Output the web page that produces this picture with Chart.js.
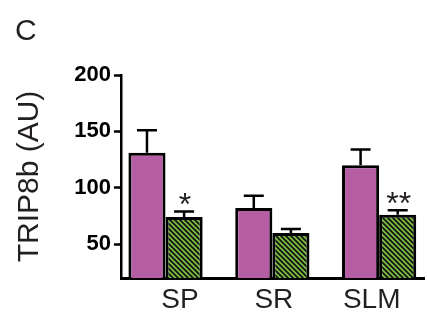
<!DOCTYPE html>
<html>
<head>
<meta charset="utf-8">
<script src="https://cdn.jsdelivr.net/npm/chart.js@4"></script>
<style>
  html, body { margin: 0; padding: 0; background: #fff; }
  canvas { display: block; }
</style>
</head>
<body>
<canvas id="c" width="427" height="328"></canvas>
<script>
// TRIP8b levels per hippocampal layer
const categories = ['SP', 'SR', 'SLM'];
const controlValues = [131, 82, 120];
const controlErrors = [20, 11, 14];
const treatedValues = [74, 60, 76];
const treatedErrors = [5, 3.5, 4];
const significance = ['*', '', '**'];
const yTicks = [50, 100, 150, 200];

const MAGENTA = '#b55ea4';
const GREEN = '#7cc242';
const INK = '#231f20';
const FONT = '"Liberation Sans", Arial, sans-serif';

// diagonal black hatch over green
function hatch() {
  const s = 5;
  const p = document.createElement('canvas');
  p.width = s; p.height = s;
  const g = p.getContext('2d');
  g.fillStyle = GREEN;
  g.fillRect(0, 0, s, s);
  g.strokeStyle = '#111';
  g.lineWidth = 1.8;
  g.beginPath();
  g.moveTo(-1, -1); g.lineTo(s + 1, s + 1);
  g.moveTo(-1, s - 1); g.lineTo(1, s + 1);
  g.moveTo(s - 1, -1); g.lineTo(s + 1, 1);
  g.stroke();
  return g.createPattern(p, 'repeat');
}

const ctx = document.getElementById('c').getContext('2d');

// upper error bars and significance marks
const errorBars = {
  id: 'errorBars',
  afterDatasetsDraw(chart) {
    const g = chart.ctx;
    const y = chart.scales.y;
    const errs = [controlErrors, treatedErrors];
    const vals = [controlValues, treatedValues];
    g.save();
    g.strokeStyle = '#000';
    g.lineWidth = 2.5;
    chart.data.datasets.forEach((ds, di) => {
      chart.getDatasetMeta(di).data.forEach((bar, i) => {
        const top = y.getPixelForValue(vals[di][i] + errs[di][i]);
        g.beginPath();
        g.moveTo(bar.x, bar.y);
        g.lineTo(bar.x, top);
        g.moveTo(bar.x - 10, top);
        g.lineTo(bar.x + 10, top);
        g.stroke();
        if (di === 1 && significance[i]) {
          g.fillStyle = INK;
          g.font = '32px ' + FONT;
          g.textAlign = 'center';
          g.textBaseline = 'alphabetic';
          g.fillText(significance[i], bar.x + 1, top + 4);
        }
      });
    });
    g.restore();
  }
};

// panel letter
const panelLetter = {
  id: 'panelLetter',
  afterDraw(chart) {
    const g = chart.ctx;
    g.save();
    g.fillStyle = INK;
    g.font = '30px ' + FONT;
    g.textAlign = 'left';
    g.textBaseline = 'alphabetic';
    g.fillText('C', 15, 40);
    g.restore();
  }
};

const X_MIN = -0.417, X_MAX = 2.42;

new Chart(ctx, {
  type: 'bar',
  data: {
    datasets: [
      {
        data: categories.map((c, i) => ({ x: i, y: controlValues[i] })),
        backgroundColor: MAGENTA,
        borderColor: '#000',
        borderWidth: 3,
        borderSkipped: false
      },
      {
        data: categories.map((c, i) => ({ x: i, y: treatedValues[i] })),
        backgroundColor: hatch(),
        borderColor: '#000',
        borderWidth: 3,
        borderSkipped: false
      }
    ]
  },
  plugins: [errorBars, panelLetter],
  options: {
    responsive: false,
    animation: false,
    events: [],
    categoryPercentage: 0.695,
    barPercentage: 1.0,
    layout: { padding: { top: 75, right: 3, left: 0, bottom: 0 } },
    plugins: { legend: { display: false }, tooltip: { enabled: false } },
    scales: {
      // value axis for the bars: one unit per layer
      x: {
        type: 'linear',
        position: 'bottom',
        offset: false,
        min: X_MIN,
        max: X_MAX,
        afterBuildTicks(scale) {
          scale.ticks = categories.map((c, i) => ({ value: i }));
        },
        afterFit(scale) { scale.height = 0; },
        grid: { display: false, offset: false },
        border: { display: true, color: '#000', width: 3 },
        ticks: { display: false }
      },
      // layer names under the axis
      xl: {
        type: 'linear',
        position: 'bottom',
        offset: false,
        min: X_MIN,
        max: X_MAX,
        afterBuildTicks(scale) {
          scale.ticks = [0.135, 1.014, 1.93].map(v => ({ value: v }));
        },
        afterFit(scale) { scale.height = 50; },
        grid: { display: false },
        border: { display: false },
        ticks: {
          autoSkip: false,
          maxRotation: 0,
          padding: -3,
          color: INK,
          font: { family: FONT, size: 28 },
          callback: (v, i) => categories[i]
        }
      },
      y: {
        min: 20,
        max: 200,
        afterBuildTicks(scale) {
          scale.ticks = yTicks.map(v => ({ value: v }));
        },
        afterFit(scale) { scale.width = 121; },
        grid: {
          display: true,
          drawOnChartArea: false,
          drawTicks: true,
          tickLength: 7,
          tickWidth: 2.5,
          color: '#000'
        },
        border: { display: true, color: '#000', width: 2.5 },
        ticks: {
          padding: 3,
          color: '#000',
          font: { family: FONT, size: 22, weight: 'bold' }
        },
        title: {
          display: true,
          text: 'TRIP8b (AU)',
          color: INK,
          padding: { top: 12, bottom: 0 },
          font: { family: FONT, size: 30 }
        }
      }
    }
  }
});
</script>
</body>
</html>
